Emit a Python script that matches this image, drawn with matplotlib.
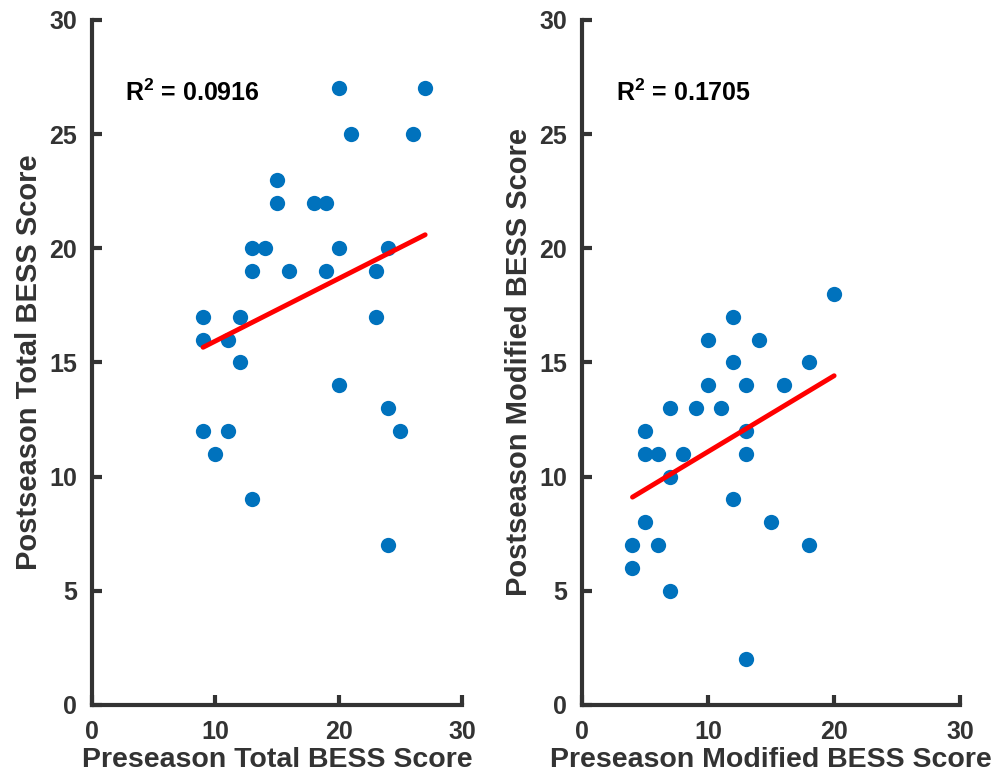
import numpy as np
import matplotlib.pyplot as plt

plt.rcParams['font.family'] = ['Liberation Sans', 'DejaVu Sans']
plt.rcParams['font.weight'] = 'bold'
plt.rcParams['mathtext.fontset'] = 'custom'
plt.rcParams['mathtext.rm'] = 'Liberation Sans:bold'
plt.rcParams['mathtext.bf'] = 'Liberation Sans:bold'

# Total BESS scores (preseason vs postseason)
total_pre = [9, 9, 9, 10, 11, 11, 12, 12, 13, 13, 13, 14, 15, 15, 16,
             18, 19, 19, 20, 20, 20, 21, 23, 23, 24, 24, 24, 25, 26, 27]
total_post = [17, 16, 12, 11, 16, 12, 17, 15, 20, 19, 9, 20, 23, 22, 19,
              22, 22, 19, 27, 20, 14, 25, 19, 17, 20, 13, 7, 12, 25, 27]

# Modified BESS scores
mod_pre = [20, 12, 10, 14, 12, 18, 10, 13, 16, 7, 9, 11, 5, 13,
           5, 6, 8, 13, 7, 12, 5, 15, 4, 6, 18, 4, 7, 13]
mod_post = [18, 17, 16, 16, 15, 15, 14, 14, 14, 13, 13, 13, 12, 12,
            11, 11, 11, 11, 10, 9, 8, 8, 7, 7, 7, 6, 5, 2]

r2_labels = ['0.0916', '0.1705']
x_labels = ['Preseason Total BESS Score', 'Preseason Modified BESS Score']
y_labels = ['Postseason Total BESS Score', 'Postseason Modified BESS Score']

dark = '#333333'
fig = plt.figure(figsize=(9.95, 7.82), dpi=100)
ax1 = fig.add_axes([0.0925, 0.0985, 0.372, 0.876])
ax2 = fig.add_axes([0.585, 0.0985, 0.380, 0.876])

sets = [(ax1, total_pre, total_post), (ax2, mod_pre, mod_post)]
for i, (ax, xs, ys) in enumerate(sets):
    xs = np.array(xs)
    ys = np.array(ys)
    ax.plot(xs, ys, 'o', color='#0072BD', markersize=11, markeredgewidth=0)
    # least-squares fit line
    p = np.polyfit(xs, ys, 1)
    xf = np.array([xs.min(), xs.max()])
    ax.plot(xf, np.polyval(p, xf), color='red', linewidth=3.5, solid_capstyle='round')
    ax.text(2.7, 26.8, r'R$^\mathbf{2}$ = ' + r2_labels[i], fontsize=18,
            fontweight='bold', va='center', ha='left', color='black')

    ax.set_xlim(0, 30)
    ax.set_ylim(0, 30)
    ax.set_xticks([0, 10, 20, 30])
    ax.set_yticks([0, 5, 10, 15, 20, 25, 30])
    for s in ['top', 'right']:
        ax.spines[s].set_visible(False)
    for s in ['left', 'bottom']:
        ax.spines[s].set_color(dark)
        ax.spines[s].set_linewidth(3)
    ax.tick_params(direction='in', length=7, width=3, colors=dark,
                   labelsize=18, pad=11)
    for lab in ax.get_xticklabels() + ax.get_yticklabels():
        lab.set_fontweight('bold')
    ax.set_xlabel(x_labels[i], fontsize=20.5, fontweight='bold', color=dark, labelpad=2)
    ax.set_ylabel(y_labels[i], fontsize=21, fontweight='bold', color=dark, labelpad=4)

fig.savefig('out.png', dpi=100)
